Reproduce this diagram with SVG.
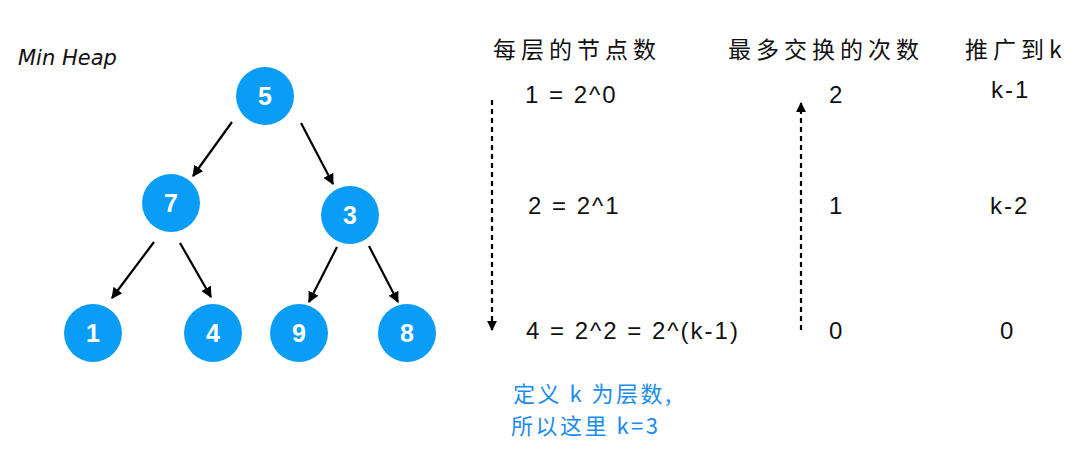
<svg xmlns="http://www.w3.org/2000/svg" width="1080" height="464" viewBox="0 0 1080 464">
<defs>
<style>
.node circle{fill:#0a9df7}
.node text{font-family:"Liberation Sans",Arial,sans-serif;font-weight:bold;font-size:25px;fill:#fff;text-anchor:middle}
.edge{stroke:#000;stroke-width:2.2;fill:none;marker-end:url(#ah)}
.dash{stroke:#000;stroke-width:2.2;fill:none;stroke-dasharray:5 4}
.hdr{font-family:"Noto Sans CJK SC","Noto Sans",sans-serif;font-size:23px;fill:#111;letter-spacing:5px}
.val{font-family:"Liberation Sans",Arial,sans-serif;font-size:24px;fill:#111;letter-spacing:2px}
.note{font-family:"Noto Sans CJK SC","Noto Sans",sans-serif;font-size:22px;fill:#1a8cf0;letter-spacing:2.5px}
.title{font-family:"DejaVu Sans",sans-serif;font-style:italic;font-size:21px;fill:#111}
</style>
<marker id="ah" viewBox="0 0 10 10" refX="9" refY="5" markerWidth="5" markerHeight="5" orient="auto" markerUnits="strokeWidth"><path d="M0,0 L10,5 L0,10 Z" fill="#000"/></marker>
<marker id="ah2" viewBox="0 0 10 10" refX="9" refY="5" markerWidth="4.5" markerHeight="4.5" orient="auto" markerUnits="strokeWidth"><path d="M0,0 L10,5 L0,10 Z" fill="#000"/></marker>
</defs>
<rect width="1080" height="464" fill="#fff"/>
<text class="title" x="18" y="65">Min Heap</text>
<g id="connectors">
<line class="edge" x1="232" y1="122" x2="193" y2="176"/>
<line class="edge" x1="301" y1="123" x2="333" y2="184"/>
<line class="edge" x1="154" y1="242" x2="112" y2="298"/>
<line class="edge" x1="180" y1="243" x2="211" y2="297"/>
<line class="edge" x1="337" y1="247" x2="309" y2="302"/>
<line class="edge" x1="369" y1="246" x2="398" y2="302"/>
<line class="dash" x1="492" y1="100" x2="492" y2="330" marker-end="url(#ah2)"/>
<line class="dash" x1="801" y1="330" x2="801" y2="103" marker-end="url(#ah2)"/>
</g>
<g id="n5" class="node"><circle cx="265" cy="96" r="29"/><text x="265" y="105">5</text></g>
<g id="n7" class="node"><circle cx="171" cy="203" r="29"/><text x="171" y="212">7</text></g>
<g id="n3" class="node"><circle cx="350" cy="215" r="29"/><text x="350" y="224">3</text></g>
<g id="n1" class="node"><circle cx="93" cy="333" r="29"/><text x="93" y="342">1</text></g>
<g id="n4" class="node"><circle cx="213" cy="333" r="29"/><text x="213" y="342">4</text></g>
<g id="n9" class="node"><circle cx="299" cy="333" r="29"/><text x="299" y="342">9</text></g>
<g id="n8" class="node"><circle cx="407" cy="333" r="29"/><text x="407" y="342">8</text></g>
<text class="hdr" x="493" y="58">每层的节点数</text>
<text class="hdr" x="728" y="58">最多交换的次数</text>
<text class="hdr" x="965" y="58">推广到k</text>
<text class="val" x="525" y="103">1 = 2^0</text>
<text class="val" x="528" y="214">2 = 2^1</text>
<text class="val" x="526" y="339">4 = 2^2 = 2^(k-1)</text>
<text class="val" x="829" y="103">2</text>
<text class="val" x="829" y="214">1</text>
<text class="val" x="829" y="339">0</text>
<text class="val" x="991" y="98">k-1</text>
<text class="val" x="990" y="214">k-2</text>
<text class="val" x="1000" y="339">0</text>
<text class="note" x="513" y="402">定义 k 为层数,</text>
<text class="note" x="511" y="434">所以这里 k=3</text>
</svg>
